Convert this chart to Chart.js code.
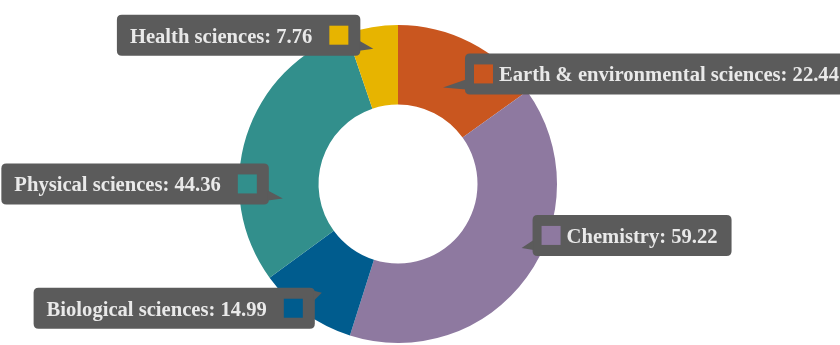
<!DOCTYPE html>
<html>
<head>
<meta charset="utf-8">
<script src="https://cdn.jsdelivr.net/npm/chart.js@4/dist/chart.umd.min.js"></script>
<style>
  html, body { margin: 0; padding: 0; background: #fff; }
  #wrap { position: relative; width: 840px; height: 345px; }
</style>
</head>
<body>
<div id="wrap"><canvas id="fields-chart"></canvas></div>
<script>
// Share per research field
const labels = ['Earth & environmental sciences', 'Chemistry', 'Biological sciences', 'Physical sciences', 'Health sciences'];
const values = [22.44, 59.22, 14.99, 44.36, 7.76];
const colors = ['#C9561F', '#8E79A0', '#005C8E', '#328F8C', '#E7B400'];

// Where each label box sits: t = position along the slice, r = position across the ring,
// side = which way the box hangs from its pointer, gap = pointer length, top = box top from pointer tip
const callouts = [
    { t: 0.46, r: 0.34, side: 'right', gap: 22, top: -34 },
    { t: 0.44, r: 0.75, side: 'right', gap: 11, top: -33 },
    { t: 0.48, r: 0.67, side: 'left', gap: 7, top: -5 },
    { t: 0.27, r: 0.46, side: 'left', gap: 14, top: -35 },
    { t: 0.45, r: 0.73, side: 'left', gap: 13, top: -34 }
];

function roundRect(ctx, x, y, w, h, rad) {
    ctx.beginPath();
    ctx.moveTo(x + rad, y);
    ctx.lineTo(x + w - rad, y);
    ctx.quadraticCurveTo(x + w, y, x + w, y + rad);
    ctx.lineTo(x + w, y + h - rad);
    ctx.quadraticCurveTo(x + w, y + h, x + w - rad, y + h);
    ctx.lineTo(x + rad, y + h);
    ctx.quadraticCurveTo(x, y + h, x, y + h - rad);
    ctx.lineTo(x, y + rad);
    ctx.quadraticCurveTo(x, y, x + rad, y);
    ctx.closePath();
}

// Draws a tooltip-style label for every slice at once
const labelBoxes = {
    id: 'labelBoxes',
    afterDraw(chart) {
        const ctx = chart.ctx;
        const meta = chart.getDatasetMeta(0);
        const boxH = 41, sq = 19;
        ctx.save();
        ctx.font = 'bold 20.6px "Liberation Serif", "Times New Roman", serif';
        meta.data.forEach((arc, i) => {
            const p = arc.getProps(['x', 'y', 'startAngle', 'endAngle', 'innerRadius', 'outerRadius'], true);
            const c = callouts[i];
            const a = p.startAngle + (p.endAngle - p.startAngle) * c.t;
            const r = p.innerRadius + (p.outerRadius - p.innerRadius) * c.r;
            const tipX = p.x + r * Math.cos(a);
            const tipY = p.y + r * Math.sin(a);

            const text = labels[i] + ': ' + values[i].toFixed(2);
            const tw = ctx.measureText(text).width;
            let boxX, boxW, textX, sqX, edge;
            if (c.side === 'right') {
                // square on the left, next to the pointer
                boxW = 9 + sq + 6 + tw + 14;
                boxX = tipX + c.gap;
                sqX = boxX + 9;
                textX = sqX + sq + 6;
                edge = boxX;
            } else {
                boxW = 13 + tw + 17 + sq + 12;
                boxX = tipX - c.gap - boxW;
                textX = boxX + 13;
                sqX = boxX + boxW - 12 - sq;
                edge = boxX + boxW;
            }
            const boxY = tipY + c.top;

            ctx.fillStyle = '#5b5b5b';
            roundRect(ctx, boxX, boxY, boxW, boxH, 5);
            ctx.fill();

            // pointer
            const mid = Math.min(Math.max(tipY - 3, boxY + 8), boxY + boxH - 8);
            const inward = c.side === 'right' ? 1 : -1;
            ctx.beginPath();
            ctx.moveTo(edge + inward, mid - 5);
            ctx.lineTo(tipX, tipY);
            ctx.lineTo(edge + inward, mid + 5);
            ctx.closePath();
            ctx.fill();

            ctx.fillStyle = colors[i];
            ctx.fillRect(sqX, boxY + (boxH - sq) / 2, sq, sq);

            ctx.fillStyle = '#e9e9e9';
            ctx.textBaseline = 'alphabetic';
            ctx.textAlign = 'left';
            ctx.fillText(text, textX, boxY + 28);
        });
        ctx.restore();
    }
};

new Chart(document.getElementById('fields-chart'), {
    type: 'doughnut',
    data: {
        labels: labels,
        datasets: [{
            data: values,
            backgroundColor: colors,
            borderWidth: 0
        }]
    },
    options: {
        responsive: true,
        maintainAspectRatio: false,
        animation: false,
        cutout: '50%',
        layout: {
            padding: { left: 239, right: 283, top: 25, bottom: 2 }
        },
        plugins: {
            legend: { display: false },
            tooltip: { enabled: false }
        }
    },
    plugins: [labelBoxes]
});
</script>
</body>
</html>
